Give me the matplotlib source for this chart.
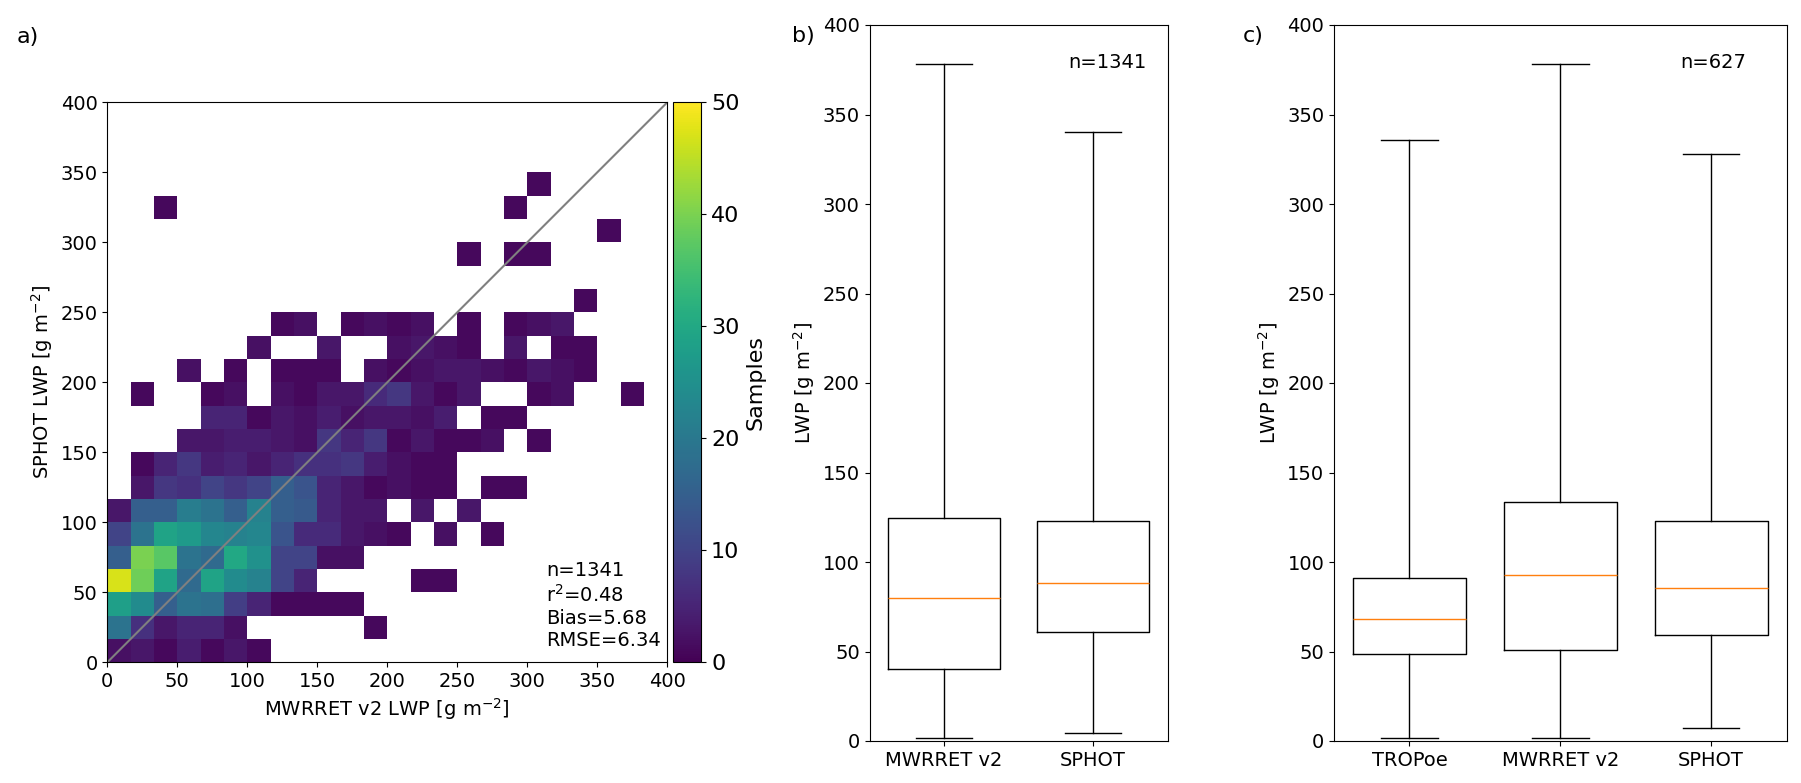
import numpy as np
import matplotlib
matplotlib.use("Agg")
import matplotlib.pyplot as plt

# ---------------- data ----------------
# 2D histogram counts (rows: SPHOT bins from 0 upward, cols: MWRRET v2 bins from 0 upward), 24 bins over 0-400
counts = [
    [2, 3, 1, 4, 1, 3, 1, 0, 0, 0, 0, 0, 0, 0, 0, 0, 0, 0, 0, 0, 0, 0, 0, 0],
    [19, 7, 3, 5, 5, 2, 0, 0, 0, 0, 0, 1, 0, 0, 0, 0, 0, 0, 0, 0, 0, 0, 0, 0],
    [28, 24, 15, 19, 18, 9, 5, 1, 1, 1, 1, 0, 0, 0, 0, 0, 0, 0, 0, 0, 0, 0, 0, 0],
    [47, 39, 29, 17, 29, 24, 22, 10, 5, 0, 0, 0, 0, 1, 1, 0, 0, 0, 0, 0, 0, 0, 0, 0],
    [15, 40, 37, 19, 17, 30, 25, 10, 10, 2, 2, 0, 0, 0, 0, 0, 0, 0, 0, 0, 0, 0, 0, 0],
    [10, 19, 29, 27, 23, 22, 23, 13, 6, 6, 3, 2, 1, 0, 2, 0, 1, 0, 0, 0, 0, 0, 0, 0],
    [3, 15, 15, 21, 19, 15, 22, 15, 14, 5, 3, 3, 0, 3, 0, 3, 0, 0, 0, 0, 0, 0, 0, 0],
    [0, 3, 8, 7, 10, 8, 10, 15, 13, 5, 3, 1, 2, 1, 1, 0, 1, 1, 0, 0, 0, 0, 0, 0],
    [0, 1, 5, 8, 4, 5, 3, 5, 7, 7, 8, 4, 2, 1, 1, 0, 0, 0, 0, 0, 0, 0, 0, 0],
    [0, 0, 0, 3, 3, 4, 4, 3, 2, 8, 5, 8, 1, 3, 1, 1, 2, 0, 1, 0, 0, 0, 0, 0],
    [0, 0, 0, 0, 5, 5, 1, 3, 2, 4, 2, 3, 3, 2, 4, 0, 1, 1, 0, 0, 0, 0, 0, 0],
    [0, 1, 0, 0, 1, 2, 0, 2, 1, 3, 3, 6, 8, 3, 1, 3, 0, 0, 1, 2, 0, 0, 1, 0],
    [0, 0, 0, 2, 0, 1, 0, 1, 1, 1, 0, 2, 1, 2, 3, 3, 2, 1, 3, 2, 1, 0, 0, 0],
    [0, 0, 0, 0, 0, 0, 2, 0, 0, 3, 0, 0, 2, 3, 2, 1, 0, 3, 0, 1, 1, 0, 0, 0],
    [0, 0, 0, 0, 0, 0, 0, 1, 2, 0, 1, 2, 1, 2, 0, 1, 0, 1, 2, 3, 0, 0, 0, 0],
    [0, 0, 0, 0, 0, 0, 0, 0, 0, 0, 0, 0, 0, 0, 0, 0, 0, 0, 0, 0, 1, 0, 0, 0],
    [0, 0, 0, 0, 0, 0, 0, 0, 0, 0, 0, 0, 0, 0, 0, 0, 0, 0, 0, 0, 0, 0, 0, 0],
    [0, 0, 0, 0, 0, 0, 0, 0, 0, 0, 0, 0, 0, 0, 0, 1, 0, 1, 1, 0, 0, 0, 0, 0],
    [0, 0, 0, 0, 0, 0, 0, 0, 0, 0, 0, 0, 0, 0, 0, 0, 0, 0, 0, 0, 0, 1, 0, 0],
    [0, 0, 1, 0, 0, 0, 0, 0, 0, 0, 0, 0, 0, 0, 0, 0, 0, 1, 0, 0, 0, 0, 0, 0],
    [0, 0, 0, 0, 0, 0, 0, 0, 0, 0, 0, 0, 0, 0, 0, 0, 0, 0, 1, 0, 0, 0, 0, 0],
    [0, 0, 0, 0, 0, 0, 0, 0, 0, 0, 0, 0, 0, 0, 0, 0, 0, 0, 0, 0, 0, 0, 0, 0],
    [0, 0, 0, 0, 0, 0, 0, 0, 0, 0, 0, 0, 0, 0, 0, 0, 0, 0, 0, 0, 0, 0, 0, 0],
    [0, 0, 0, 0, 0, 0, 0, 0, 0, 0, 0, 0, 0, 0, 0, 0, 0, 0, 0, 0, 0, 0, 0, 0],
]
stats_text = ["n=1341", r"r$^2$=0.48", "Bias=5.68", "RMSE=6.34"]

# Box plot statistics: [lower whisker, Q1, median, Q3, upper whisker]
labels_b = ["MWRRET v2", "SPHOT"]
box_b = [
    [1.4, 40.2, 80.0, 124.6, 378.0],
    [4.4, 60.8, 88.3, 122.9, 340.0],
]
n_b = "n=1341"

labels_c = ["TROPoe", "MWRRET v2", "SPHOT"]
box_c = [
    [1.4, 48.6, 68.0, 91.1, 335.5],
    [1.4, 50.8, 92.7, 133.5, 378.0],
    [7.4, 59.0, 85.5, 122.9, 327.7],
]
n_c = "n=627"

# ---------------- figure ----------------
W, H = 1801, 783
fig = plt.figure(figsize=(W / 100, H / 100), dpi=100)

def rect(x0, y0, x1, y1):
    return [x0 / W, 1 - y1 / H, (x1 - x0) / W, (y1 - y0) / H]

FS = 14

# Panel a: 2D histogram
ax_a = fig.add_axes(rect(107.3, 102.3, 667.3, 662.3))
edges = np.linspace(0, 400, 25)
C = np.ma.masked_equal(np.array(counts, dtype=float), 0)
mesh = ax_a.pcolormesh(edges, edges, C, cmap="viridis", vmin=0, vmax=50)
ax_a.plot([0, 400], [0, 400], color="gray", lw=1.5)
ax_a.set_xlim(0, 400)
ax_a.set_ylim(0, 400)
ax_a.set_xticks(np.arange(0, 401, 50))
ax_a.set_yticks(np.arange(0, 401, 50))
ax_a.tick_params(labelsize=FS)
ax_a.set_xlabel(r"MWRRET v2 LWP [g m$^{-2}$]", fontsize=FS)
ax_a.set_ylabel(r"SPHOT LWP [g m$^{-2}$]", fontsize=FS)
ax_a.text(0.783, 0.022, "\n".join(stats_text), transform=ax_a.transAxes,
          fontsize=FS, ha="left", va="bottom", linespacing=1.2)

cax = fig.add_axes(rect(673.3, 102.3, 701.3, 662.3))
cb = fig.colorbar(mesh, cax=cax, ticks=np.arange(0, 51, 10))
cb.ax.tick_params(labelsize=16)
cb.set_label("Samples", fontsize=16)

def draw_box(ax, labels, vals, ntxt, nx):
    stats = []
    for lab, v in zip(labels, vals):
        stats.append(dict(label=lab, whislo=v[0], q1=v[1], med=v[2], q3=v[3],
                          whishi=v[4], fliers=[]))
    ax.bxp(stats, widths=0.75, showfliers=False,
           medianprops=dict(color="#ff7f0e", lw=1.0),
           boxprops=dict(color="black", lw=1.0),
           whiskerprops=dict(color="black", lw=1.0),
           capprops=dict(color="black", lw=1.0))
    ax.set_ylim(0, 400)
    ax.set_yticks(np.arange(0, 401, 50))
    ax.tick_params(labelsize=FS)
    ax.set_ylabel(r"LWP [g m$^{-2}$]", fontsize=FS)
    ax.text(nx, 0.947, ntxt, transform=ax.transAxes, fontsize=FS,
            ha="left", va="center")

ax_b = fig.add_axes(rect(869.5, 25, 1167.5, 741))
draw_box(ax_b, labels_b, box_b, n_b, 0.667)

ax_c = fig.add_axes(rect(1334, 25, 1786.5, 741))
draw_box(ax_c, labels_c, box_c, n_c, 0.765)

fig.text(28 / W, 1 - 37 / H, "a)", fontsize=16, ha="center", va="center")
fig.text(803 / W, 1 - 36 / H, "b)", fontsize=16, ha="center", va="center")
fig.text(1253 / W, 1 - 36 / H, "c)", fontsize=16, ha="center", va="center")

fig.savefig("out.png", dpi=100)
